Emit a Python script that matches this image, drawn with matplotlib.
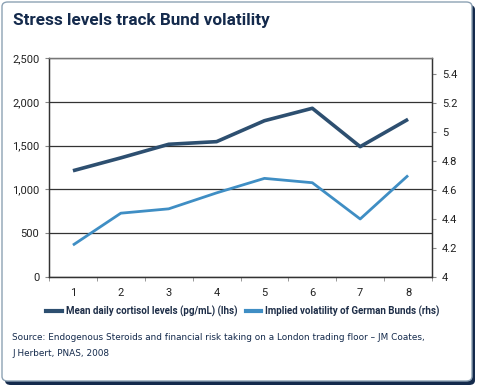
import matplotlib.pyplot as plt
from matplotlib.patches import FancyBboxPatch
from matplotlib.ticker import FuncFormatter

days = [1, 2, 3, 4, 5, 6, 7, 8]
cortisol = [1213, 1360, 1515, 1545, 1784, 1926, 1488, 1800]
bund_vol = [4.22, 4.44, 4.47, 4.58, 4.68, 4.65, 4.40, 4.70]

dark = "#2d4f70"
light = "#3f8ec4"
navy = "#142a4c"
fam = ["Roboto", "DejaVu Sans"]

fig = plt.figure(figsize=(4.8, 3.86), dpi=100)
W, H = 480, 386

# card border with dark shadow on right/bottom
shadow = FancyBboxPatch((5 / W, 1 / H), 470 / W, 380 / H, boxstyle="round,pad=0,rounding_size=0.012",
                        transform=fig.transFigure, facecolor=navy, edgecolor="none", zorder=0)
card = FancyBboxPatch((2 / W, 5 / H), 470 / W, 379 / H, boxstyle="round,pad=0,rounding_size=0.012",
                      transform=fig.transFigure, facecolor="white", edgecolor="#8da2b4", lw=1.0, zorder=0.1)
fig.patches.extend([shadow, card])

ax = fig.add_axes([49 / W, 1 - 277 / H, (432 - 49) / W, (277 - 58) / H])
ax.set_zorder(2)
ax.patch.set_alpha(0)
ax2 = ax.twinx()

ax.plot(days, cortisol, color=dark, lw=2.6, solid_capstyle="butt", zorder=3)
ax2.plot(days, bund_vol, color=light, lw=2.0, solid_capstyle="butt", zorder=3)

ax.set_xlim(0.5, 8.5)
ax.set_ylim(0, 2500)
ax2.set_ylim(4, 5.51)
ax.set_yticks([0, 500, 1000, 1500, 2000, 2500])
ax.yaxis.set_major_formatter(FuncFormatter(lambda v, p: f"{int(v):,}"))
ax2.set_yticks([4, 4.2, 4.4, 4.6, 4.8, 5, 5.2, 5.4])
ax2.set_yticklabels(["4", "4.2", "4.4", "4.6", "4.8", "5", "5.2", "5.4"])

ax.set_xticks(days)
ax.set_xticks([d + 0.5 for d in [0] + days], minor=True)
ax.tick_params(axis="x", which="major", length=0, pad=8)
ax.tick_params(axis="x", which="minor", length=3, color="#888888")
ax.tick_params(axis="y", length=3, color="#888888", pad=4)
ax2.tick_params(axis="y", length=3, color="#888888", pad=4)

for a in (ax, ax2):
    for lab in a.get_xticklabels() + a.get_yticklabels():
        lab.set_family(fam)
        lab.set_fontsize(8)
        lab.set_color("#222222")

ax.grid(axis="y", color="#333333", lw=0.9)
ax.set_axisbelow(True)
for a in (ax, ax2):
    a.spines["left"].set_color("#333333")
    a.spines["bottom"].set_color("#333333")
    a.spines["right"].set_color("#333333")
    a.spines["top"].set_color("#777777")
    for s in a.spines.values():
        s.set_linewidth(0.9)

fig.text(13 / W, 1 - 20 / H, "Stress levels track Bund volatility", fontsize=12.3, family=fam,
         fontweight="bold", color=navy, va="center", ha="left")

h1, = ax.plot([], [], color=dark, lw=3)
h2, = ax.plot([], [], color=light, lw=3)
fig.legend([h1, h2], ["Mean daily cortisol levels (pg/mL) (lhs)", "Implied volatility of German Bunds (rhs)"],
           loc="center", bbox_to_anchor=(243 / W, 1 - 311 / H), ncol=2, frameon=False,
           prop={"family": fam, "size": 7, "weight": "bold"}, labelcolor="#1e2e48",
           handlelength=1.6, handletextpad=0.4, columnspacing=0.9)

fig.text(12 / W, 1 - 338 / H,
         "Source: Endogenous Steroids and financial risk taking on a London trading floor \u2013 JM Coates,",
         fontsize=6.4, color=navy, va="center", ha="left")
fig.text(12 / W, 1 - 354 / H, "J Herbert, PNAS, 2008", fontsize=6.4, color=navy, va="center", ha="left")

fig.savefig("out.png", dpi=100)
